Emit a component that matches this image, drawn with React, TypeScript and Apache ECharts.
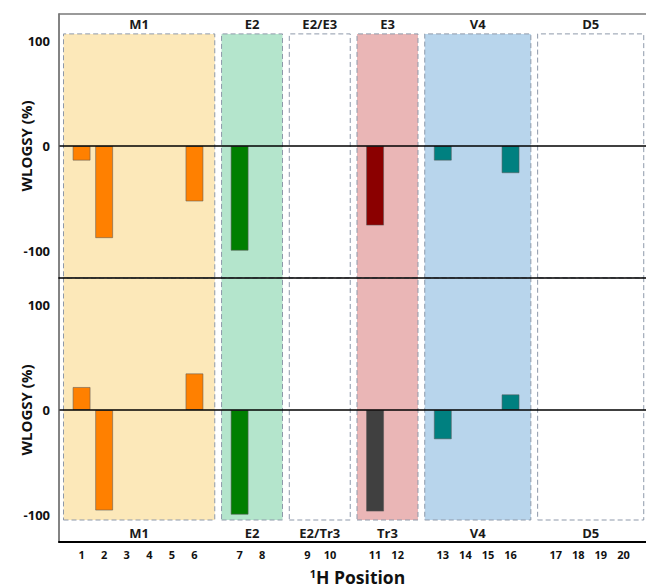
import React, { useEffect, useRef } from "react";
import * as echarts from "echarts";

// x slots (value axis 0..26); empty strings are the gaps between groups
const tickLabels = ["", "1", "2", "3", "4", "5", "6", "", "7", "8", "", "9", "10", "", "11", "12", "", "13", "14", "15", "16", "", "17", "18", "19", "20", ""];

const barPositions = ["1", "2", "6", "7", "11", "13", "16"];
const topValues = [-14, -88, -53, -100, -76, -14, -26];
const bottomValues = [22, -96, 35, -100, -97, -28, 15];
const topColors = ["#FF8000", "#FF8000", "#FF8000", "#007F00", "#8B0000", "#008080", "#008080"];
const bottomColors = ["#FF8000", "#FF8000", "#FF8000", "#007F00", "#404040", "#008080", "#008080"];

const groupFirst = ["1", "7", "9", "11", "13", "17"];
const groupLast = ["6", "8", "10", "12", "16", "20"];
const topGroupNames = ["M1", "E2", "E2/E3", "E3", "V4", "D5"];
const bottomGroupNames = ["M1", "E2", "E2/Tr3", "Tr3", "V4", "D5"];
const groupFills = ["#FCE8B9", "#B4E5CC", "#FFFFFF", "#EAB6B6", "#B8D5EC", "#FFFFFF"];

const yLimit = 126;
const yTicks = [-100, 0, 100];
const topBoxTop = 107;
const bottomBoxBottom = -105;

const FONT = "'Open Sans', 'Liberation Sans', sans-serif";

function slot(p: string) {
  return tickLabels.indexOf(p);
}

function boxes(names: string[], yTop: number, yBottom: number) {
  return names.map((name, i) => [
    {
      name,
      xAxis: slot(groupFirst[i]) - 0.8,
      yAxis: yTop,
      itemStyle: {
        color: groupFills[i],
        borderColor: "#8E99AA",
        borderWidth: 1,
        borderType: [5, 3],
      },
    },
    { xAxis: slot(groupLast[i]) + 0.9, yAxis: yBottom },
  ]);
}

function bars(values: number[], colors: string[]) {
  return barPositions.map((p, i) => ({
    value: [slot(p), values[i]],
    itemStyle: { color: colors[i] },
  }));
}

const yAxisBase = (gridIndex: number) => ({
  type: "value",
  gridIndex,
  min: -yLimit,
  max: yLimit,
  z: 10,
  name: "WLOGSY (%)",
  nameLocation: "middle",
  nameGap: 26,
  nameMoveOverlap: false,
  nameTextStyle: { fontFamily: FONT, fontWeight: "bold", fontSize: 15, color: "#111" },
  axisLine: { show: true, onZero: false, lineStyle: { color: "#5A5A5A", width: 1.5 } },
  axisTick: { show: false },
  splitLine: { show: false },
  axisLabel: {
    customValues: yTicks,
    fontFamily: FONT,
    fontWeight: "bold",
    fontSize: 13,
    color: "#111",
    margin: 9,
  },
});

const zeroLine = {
  silent: true,
  symbol: ["none", "none"],
  label: { show: false },
  lineStyle: { color: "#000", width: 1.5, type: "solid" },
  data: [{ yAxis: 0 }],
};

export default function App() {
  const ref = useRef<HTMLDivElement>(null);
  useEffect(() => {
    if (!ref.current) return;
    const chart = echarts.init(ref.current, undefined, { renderer: "svg" });
    const xBase = {
      type: "value",
      min: 0,
      max: tickLabels.length - 1,
      interval: 1,
      z: 10,
      axisTick: { show: false },
      splitLine: { show: false },
    };
    chart.setOption({
      animation: false,
      backgroundColor: "#fff",
      grid: [
        { left: 59, top: 14, width: 587, height: 264, containLabel: false, outerBoundsMode: "none" },
        { left: 59, top: 278, width: 587, height: 264, containLabel: false, outerBoundsMode: "none" },
      ],
      xAxis: [
        {
          ...xBase,
          gridIndex: 0,
          position: "bottom",
          axisLine: { onZero: false, lineStyle: { color: "#000", width: 1.5 } },
          axisLabel: { show: false },
        },
        {
          ...xBase,
          gridIndex: 0,
          position: "top",
          axisLine: { onZero: false, lineStyle: { color: "#7A7A7A", width: 1.5 } },
          axisLabel: { show: false },
        },
        {
          ...xBase,
          gridIndex: 1,
          position: "bottom",
          axisLine: { onZero: false, lineStyle: { color: "#000", width: 2 } },
          axisLabel: {
            formatter: (v: number) => tickLabels[v] ?? "",
            fontFamily: FONT,
            fontWeight: "bold",
            fontSize: 11,
            color: "#111",
            margin: 7,
          },
          name: "{s|1}{b|H Position}",
          nameLocation: "middle",
          nameGap: 26,
          nameMoveOverlap: false,
          nameTextStyle: {
            padding: [0, 0, 0, 10],
            rich: {
              s: { fontFamily: FONT, fontWeight: "bold", fontSize: 11, color: "#111", verticalAlign: "top", padding: [0, 0, 7, 0] },
              b: { fontFamily: FONT, fontWeight: "bold", fontSize: 17.5, color: "#111" },
            },
          },
        },
      ],
      yAxis: [yAxisBase(0), yAxisBase(1)],
      series: [
        {
          type: "bar",
          xAxisIndex: 0,
          yAxisIndex: 0,
          barWidth: 18,
          itemStyle: { borderColor: "rgba(90,90,90,0.55)", borderWidth: 1 },
          data: bars(topValues, topColors),
          markArea: {
            silent: true,
            label: {
              show: true,
              position: "top",
              distance: 3,
              fontFamily: FONT,
              fontWeight: "bold",
              fontSize: 13,
              color: "#1A1A1A",
            },
            data: boxes(topGroupNames, topBoxTop, -yLimit),
          },
          markLine: zeroLine,
        },
        {
          type: "bar",
          xAxisIndex: 2,
          yAxisIndex: 1,
          barWidth: 18,
          itemStyle: { borderColor: "rgba(90,90,90,0.55)", borderWidth: 1 },
          data: bars(bottomValues, bottomColors),
          markArea: {
            silent: true,
            label: {
              show: true,
              position: "bottom",
              distance: 6,
              fontFamily: FONT,
              fontWeight: "bold",
              fontSize: 13,
              color: "#1A1A1A",
            },
            data: boxes(bottomGroupNames, yLimit, bottomBoxBottom),
          },
          markLine: zeroLine,
        },
      ],
    });
    return () => chart.dispose();
  }, []);
  return (
    <div
      ref={ref}
      style={{ position: "absolute", left: 0, top: 0, width: 646, height: 588 }}
    />
  );
}
